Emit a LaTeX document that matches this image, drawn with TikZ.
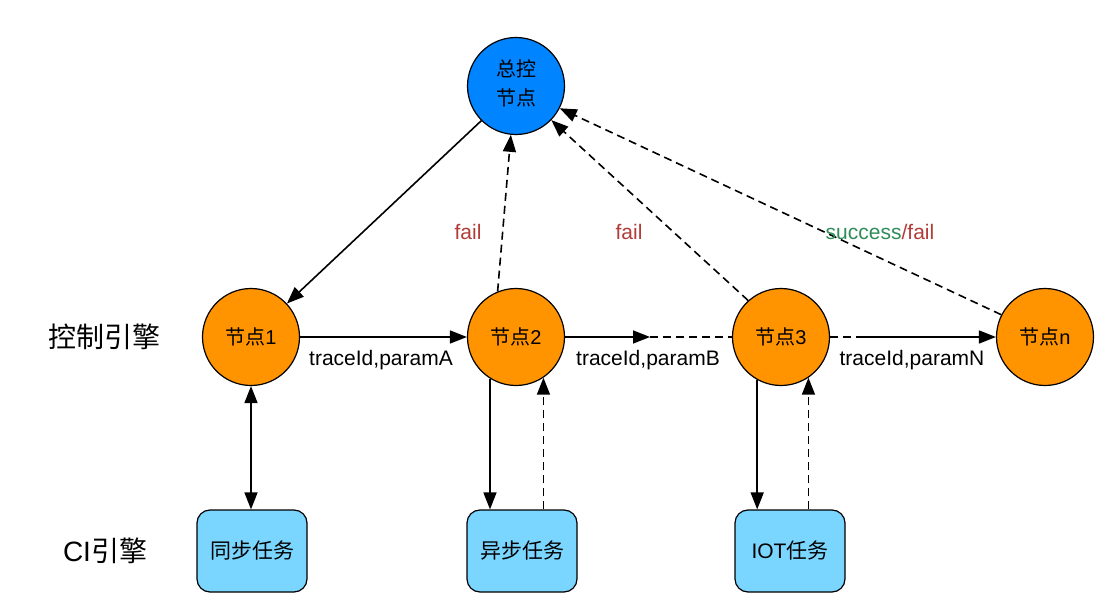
\documentclass[tikz,border=0pt]{standalone}
\usepackage{fontspec}
\setmainfont{Liberation Sans}
\newfontfamily\cjk{Noto Sans CJK SC}
\usetikzlibrary{arrows.meta}
\definecolor{orangeN}{RGB}{255,148,0}
\definecolor{blueTop}{RGB}{0,132,255}
\definecolor{boxBlue}{RGB}{122,214,255}
\definecolor{failRed}{RGB}{178,60,56}
\definecolor{succGreen}{RGB}{46,140,90}
\tikzset{
  circ/.style={circle, draw=black, line width=1.2pt, fill=orangeN, minimum size=97pt, inner sep=0pt, font=\fontsize{20}{23}\selectfont},
  topc/.style={circ, fill=blueTop},
  task/.style={draw=black, line width=1.2pt, fill=boxBlue, rounded corners=13pt, minimum width=110pt, minimum height=82pt, inner sep=0pt, font=\fontsize{21}{24}\selectfont\cjk},
  lbl/.style={font=\fontsize{21}{24}\selectfont, inner sep=1pt},
  side/.style={font=\fontsize{28}{31}\selectfont\cjk},
  arr/.style={line width=1.6pt, -{Triangle[length=17pt,width=13pt]}},
  darr/.style={arr, dash pattern=on 8pt off 5pt},
  dline/.style={line width=1.6pt, dash pattern=on 8pt off 5pt},
  barr/.style={line width=1.6pt, {Triangle[length=17pt,width=13pt]}-{Triangle[length=17pt,width=13pt]}}
}
\begin{document}
\begin{tikzpicture}[x=1pt,y=-1pt]
\useasboundingbox (0,0) rectangle (1108,609);
% nodes
\node[topc] (top) at (516,86) {\cjk\begin{tabular}{@{}c@{}}总控\\[6pt]节点\end{tabular}};
\node[circ] (n1) at (251,337) {\cjk 节点\rmfamily 1};
\node[circ] (n2) at (516,337) {\cjk 节点\rmfamily 2};
\node[circ] (n3) at (781,337) {\cjk 节点\rmfamily 3};
\node[circ] (nn) at (1045,337) {\cjk 节点\rmfamily n};
\node[task] (b1) at (252,551) {同步任务};
\node[task] (b2) at (522,551) {异步任务};
\node[task] (b3) at (790,551) {\rmfamily IOT\cjk 任务};
\node[side] (s1) at (104,337) {控制引擎};
\node[side] (s2) at (105,551) {\rmfamily CI\cjk 引擎};
% top-level connectors
\draw[arr] (top.-135) -- (n1.43);
\draw[darr] (n2.112) -- (top.-96);
\draw[darr] (n3.132) -- (top.-44);
\draw[darr] (nn.153) -- (top.-27);
% horizontal chain
\coordinate (m23) at (650,337);
\coordinate (m3n) at (864,337);
\draw[arr] (n1) -- (n2);
\draw[arr] (n2) -- (m23);
\draw[dline] (m23) -- (n3);
\draw[dline] (n3) -- (m3n);
\draw[arr] (m3n) -- (nn);
% labels
\node[lbl] (l1) at (381,360) {traceId,paramA};
\node[lbl] (l2) at (648,360) {traceId,paramB};
\node[lbl] (l3) at (912,360) {traceId,paramN};
\node[lbl, text=failRed] (f1) at (468,232) {fail};
\node[lbl, text=failRed] (f2) at (629,232) {fail};
\node[lbl] (f3) at (880,232) {\textcolor{succGreen}{success}\textcolor{failRed}{/fail}};
% vertical connectors
\draw[barr] (n1.south) -- (n1.south |- b1.north);
\draw[arr] (n2.-122) -- (n2.-122 |- b2.north);
\draw[darr] (b2.north -| n2.-56) -- (n2.-56);
\draw[arr] (n3.-119) -- (n3.-119 |- b3.north);
\draw[darr] (b3.north -| n3.-56) -- (n3.-56);
\end{tikzpicture}
\end{document}
